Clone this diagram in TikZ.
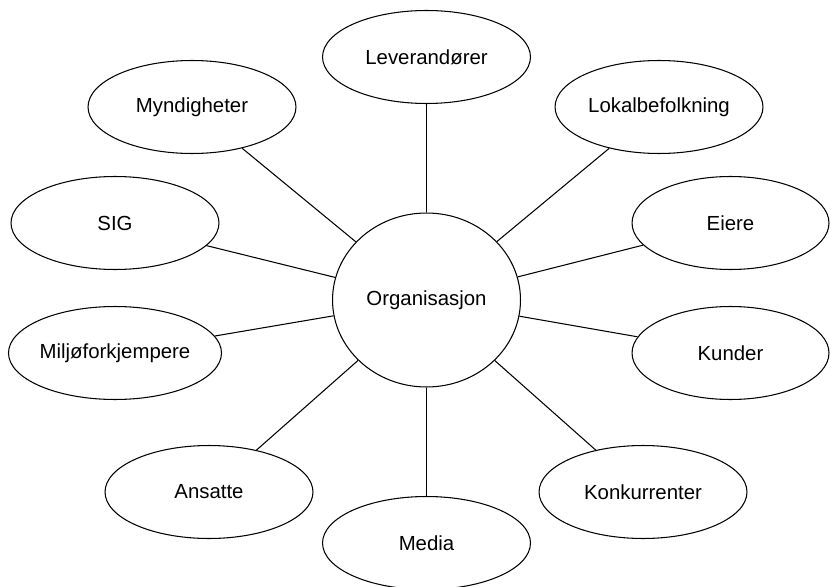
\documentclass[tikz,border=0pt]{standalone}
\usepackage{fontspec}
\setmainfont{Liberation Sans}
\usetikzlibrary{shapes.geometric}

\begin{document}
\begin{tikzpicture}[x=0.02cm,y=-0.02cm,
  party/.style={draw,ellipse,line width=0.6pt,minimum width=4.16cm,minimum height=1.86cm,
    inner sep=0pt,font=\fontsize{11.6}{14}\selectfont},
  tie/.style={draw,line width=0.6pt}]
  \useasboundingbox (0,0) rectangle (830,587);
  \node[party,minimum width=3.76cm,minimum height=3.48cm] (org) at (426.5,300) {Organisasjon};
  \def\stake#1#2#3#4{
    \node[party,#4] (#1) at (#2) {#3};
    \draw[tie] (org) -- (#1);
  }
  \stake{lev}{426.5,57}{Leverandører}{}
  \stake{myn}{192,107}{Myndigheter}{}
  \stake{lok}{659,107}{Lokalbefolkning}{}
  \stake{sig}{115,223}{SIG}{}
  \stake{eie}{730.5,223}{Eiere}{minimum width=3.94cm}
  \stake{mil}{115,353}{Miljøforkjempere}{}
  \stake{kun}{730.5,353}{Kunder}{minimum width=3.94cm}
  \stake{ans}{209,492}{Ansatte}{}
  \stake{kon}{643,492}{Konkurrenter}{}
  \stake{med}{426.5,543}{Media}{}
\end{tikzpicture}
\end{document}
